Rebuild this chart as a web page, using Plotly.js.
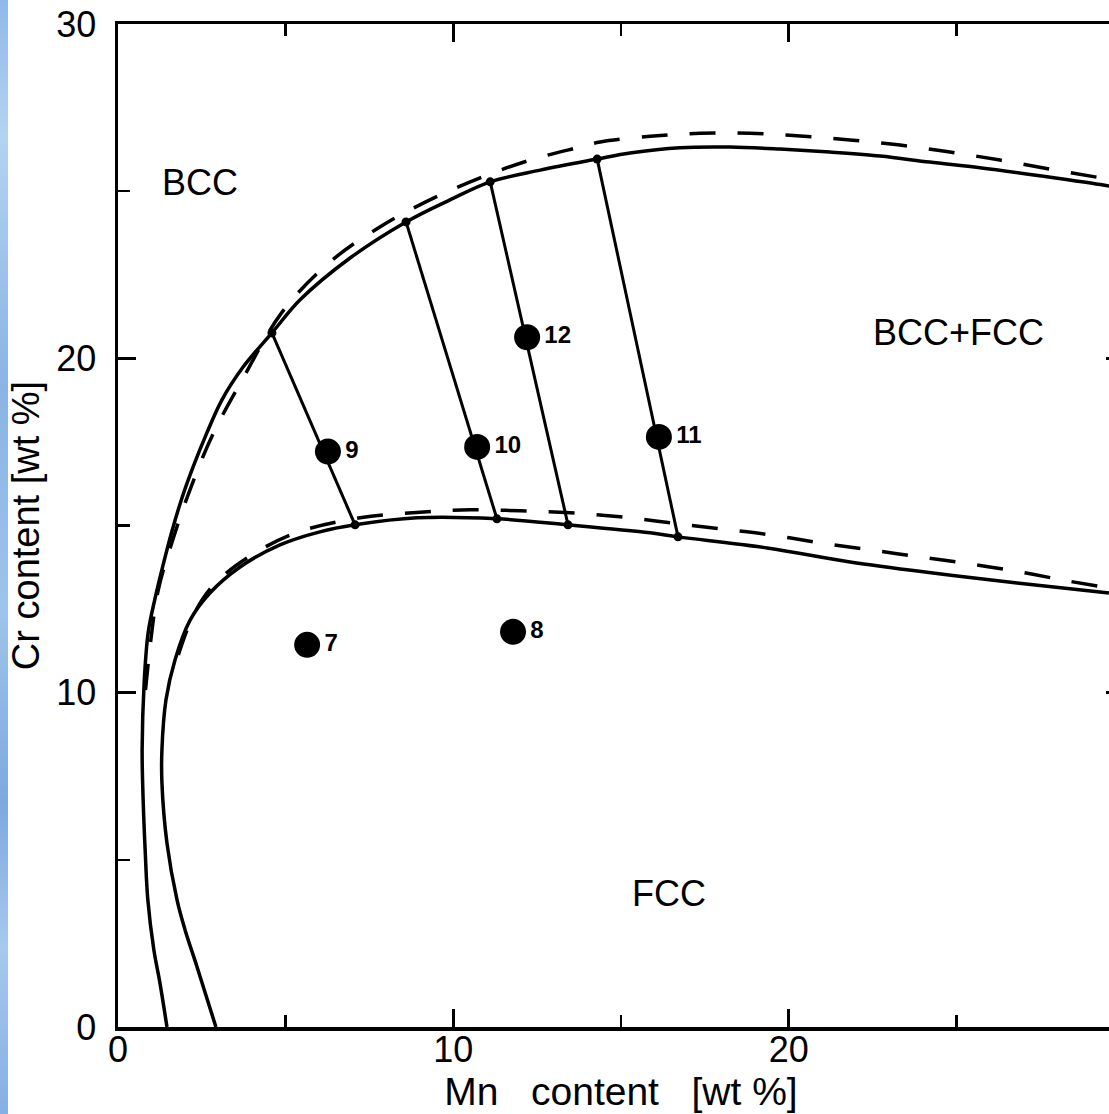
<!DOCTYPE html>
<html><head><meta charset="utf-8">
<script src="https://cdn.plot.ly/plotly-3.0.1.min.js"></script>
<style>
html,body{margin:0;padding:0;overflow:hidden;background:#fff;width:1109px;height:1114px;}
#strip{position:absolute;left:0;top:0;width:8px;height:1114px;background:linear-gradient(180deg,#8fb9e8 0%,#b3d3f2 12%,#8ab4e4 35%,#9ec4ec 55%,#7ea9dd 72%,#a6c9ee 85%,#86b0e2 100%);z-index:2}
#chart{position:absolute;left:0;top:0;width:1124px;height:1114px;}
</style></head><body><div id="chart"></div><div id="strip"></div>
<script>
// ---- data (Mn wt%, Cr wt%) ----
const outerSolidMn = [1.46,1.25,1.07,0.89,0.81,0.75,0.72,0.78,0.90,1.10,1.34,1.60,1.90,2.24,2.65,3.10,3.73,4.59,5.43,6.92,8.59,9.90,11.10,12.59,14.29,15.27,16.76,18.25,19.74,21.23,22.73,24.20,25.70,27.20,29.29,29.56];
const outerSolidCr = [0.00,1.32,2.30,3.80,5.29,6.79,8.29,10.30,11.80,12.80,13.80,14.80,15.80,16.75,17.77,18.76,19.74,20.76,21.75,23.00,24.08,24.74,25.28,25.63,25.96,26.14,26.30,26.32,26.26,26.17,26.05,25.87,25.70,25.50,25.20,25.15];

const outerDashMn = [0.82,0.98,1.20,1.68,2.20,2.82,3.70,4.90,6.32,7.81,9.30,10.80,12.29,13.78,14.38,15.87,17.36,18.85,20.34,21.83,23.32,24.81,26.30,27.80,29.29,29.56];
const outerDashCr = [10.08,11.58,13.07,14.72,16.21,17.71,19.35,21.39,22.88,23.93,24.74,25.40,25.93,26.32,26.47,26.64,26.73,26.73,26.65,26.53,26.38,26.17,25.93,25.66,25.40,25.35];

const innerSolidMn = [2.92,2.36,2.00,1.76,1.46,1.31,1.31,1.43,1.70,2.15,2.74,3.64,4.83,6.02,7.07,8.92,11.30,13.42,15.87,16.70,19.36,21.83,24.30,26.81,29.55];
const innerSolidCr = [0.00,1.79,2.90,3.80,5.50,7.30,8.29,9.78,10.98,12.17,12.98,13.76,14.42,14.81,15.02,15.23,15.20,15.02,14.78,14.66,14.33,13.91,13.58,13.28,12.98];

const innerDashMn = [1.80,2.25,2.85,3.85,5.30,7.22,9.01,10.50,11.99,13.48,14.97,16.46,17.95,19.45,20.94,22.43,23.92,25.41,26.90,28.33,29.55];
const innerDashCr = [11.13,12.32,13.22,14.03,14.78,15.23,15.40,15.47,15.44,15.38,15.26,15.08,14.90,14.72,14.48,14.27,14.06,13.85,13.61,13.34,13.13];

// tie lines: [Mn_top, Mn_bottom], [Cr_top, Cr_bottom]
const tieMn = [[4.59,7.07],[8.59,11.30],[11.10,13.42],[14.29,16.70]];
const tieCr = [[20.76,15.02],[24.08,15.20],[25.28,15.02],[25.96,14.66]];

// alloy samples
const sampleLabels = ['7','8','9','10','11','12'];
const sampleMn = [5.64,11.78,6.26,10.71,16.13,12.20];
const sampleCr = [11.43,11.82,17.21,17.35,17.65,20.63];

// phase region labels
const regionText = ['BCC','BCC+FCC','FCC'];
const regionMn = [2.45,25.05,16.43];
const regionCr = [25.27,20.76,3.98];

const xTickVals = [0,10,20];
const xTickText = ['0','10','20'];
const xMinorVals = [5,15,25];
const yTickVals = [0,10,20,30];
const yTickText = ['0','10','20','30'];
const yMinorVals = [5,15,25];

const solid = {color:'#000', width:3.5, shape:'spline', smoothing:1};
const dashed = {color:'#000', width:3.5, dash:'26px,22px', shape:'spline', smoothing:1};
const traces = [
  {x:outerSolidMn, y:outerSolidCr, mode:'lines', line:solid, hoverinfo:'skip'},
  {x:outerDashMn, y:outerDashCr, mode:'lines', line:dashed, hoverinfo:'skip'},
  {x:innerSolidMn, y:innerSolidCr, mode:'lines', line:solid, hoverinfo:'skip'},
  {x:innerDashMn, y:innerDashCr, mode:'lines', line:dashed, hoverinfo:'skip'}
];
for (let i = 0; i < tieMn.length; i++) {
  traces.push({x:tieMn[i], y:tieCr[i], mode:'lines+markers', line:{color:'#000', width:3}, marker:{color:'#000', size:9}, hoverinfo:'skip'});
}
traces.push({
  x:sampleMn, y:sampleCr, mode:'markers+text', text:sampleLabels, textposition:'middle right',
  marker:{color:'#000', size:26},
  textfont:{family:'"Liberation Sans", Arial, sans-serif', size:24, color:'#000', weight:'bold'},
  hoverinfo:'skip'
});

const annotations = regionText.map((t, i) => ({
  x:regionMn[i], y:regionCr[i], xref:'x', yref:'y', text:t, showarrow:false,
  font:{family:'"Liberation Sans", Arial, sans-serif', size:36, color:'#000'}
}));

const axisCommon = {
  ticks:'inside', ticklen:18, tickwidth:3, tickcolor:'#000',
  showline:true, linewidth:3.5, linecolor:'#000', mirror:'ticks',
  showgrid:false, zeroline:false, tickmode:'array',
  tickfont:{size:36, color:'#000'}
};

const layout = {
  width:1124, height:1114,
  margin:{l:118, r:0, t:24, b:87, pad:0},
  paper_bgcolor:'#fff', plot_bgcolor:'#fff',
  showlegend:false,
  font:{family:'"Liberation Sans", Arial, sans-serif', color:'#000', size:36},
  xaxis:Object.assign({}, axisCommon, {
    range:[0,30], tickvals:xTickVals, ticktext:xTickText, ticklabelstandoff:-12,
    minor:{tickmode:'array', tickvals:xMinorVals, ticks:'inside', ticklen:12, tickwidth:2.5, tickcolor:'#000', showgrid:false},
    title:{text:'Mn\u00a0\u00a0\u00a0content\u00a0\u00a0\u00a0[wt\u00a0%]', font:{size:39}, standoff:0}
  }),
  yaxis:Object.assign({}, axisCommon, {
    range:[0,30], tickvals:yTickVals, ticktext:yTickText, ticklabelstandoff:11,
    minor:{tickmode:'array', tickvals:yMinorVals, ticks:'inside', ticklen:12, tickwidth:2.5, tickcolor:'#000', showgrid:false},
    title:{text:'Cr\u00a0content\u00a0[wt\u00a0%]', font:{size:38}, standoff:6}
  }),
  annotations:annotations
};

Plotly.newPlot('chart', traces, layout, {staticPlot:true, displayModeBar:false});
</script></body></html>
